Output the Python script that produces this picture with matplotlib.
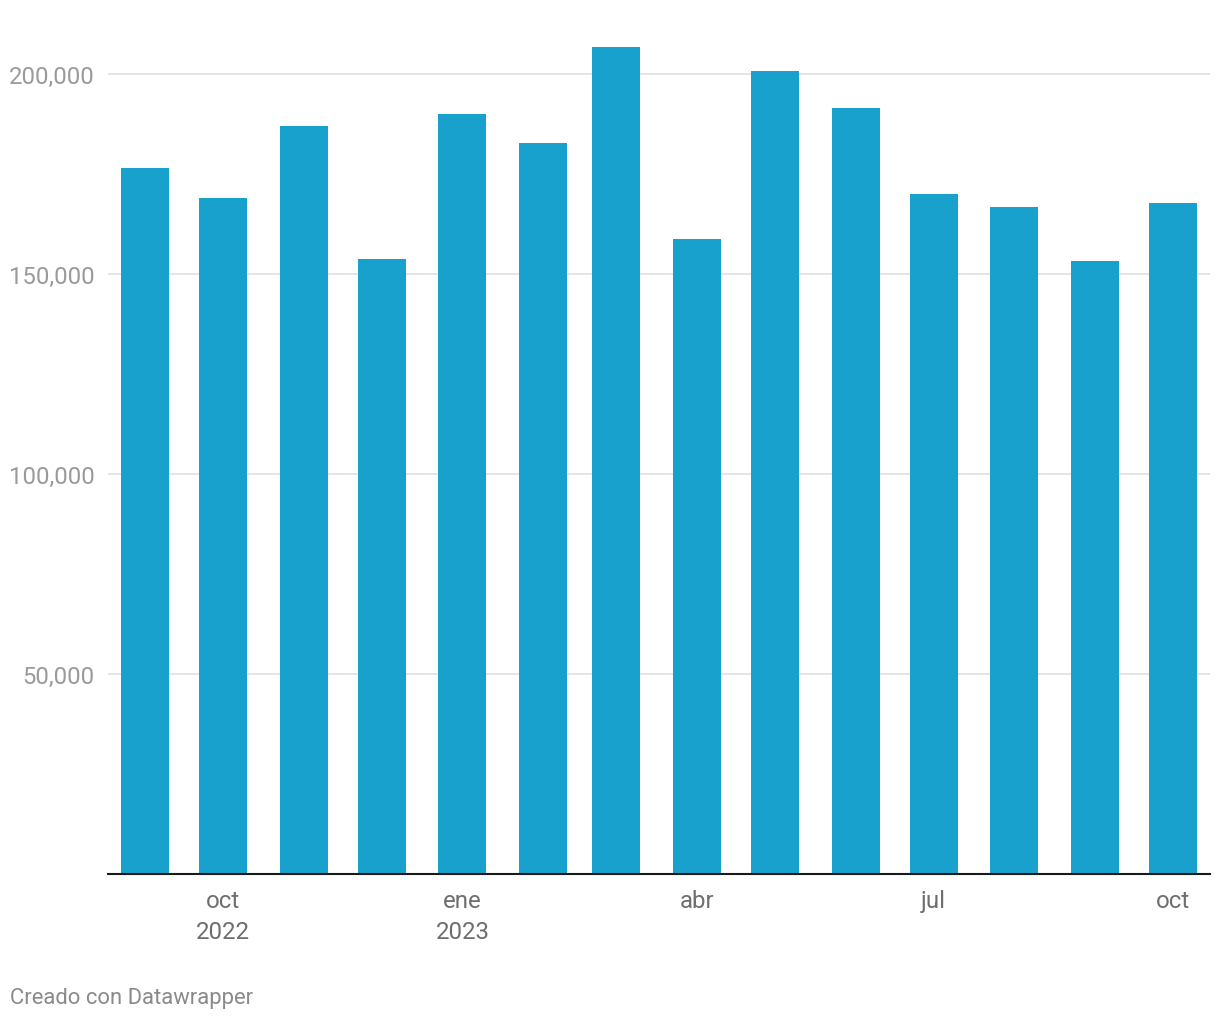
import matplotlib

matplotlib.use("Agg")
import matplotlib.pyplot as plt
import pandas as pd
from matplotlib.ticker import FuncFormatter

months = pd.period_range("2022-09", "2023-10", freq="M")
values = [176400, 168900, 186900, 153600, 189900, 182600, 206600,
          158600, 200600, 191400, 169900, 166600, 153100, 167600]

tick_months = ["2022-10", "2023-01", "2023-04", "2023-07", "2023-10"]
tick_labels = ["oct\n2022", "ene\n2023", "abr", "jul", "oct"]
y_ticks = [50000, 100000, 150000, 200000]

bar_color = "#18a1cd"
grid_color = "#e5e5e5"


def bar_pos(p):
    # Datawrapper puts each bar a fixed offset after the month start
    return p.start_time + pd.Timedelta(days=15)


def main():
    plt.rcParams["font.family"] = ["Roboto", "DejaVu Sans"]

    fig = plt.figure(figsize=(12.2, 10.2), dpi=100)
    ax = fig.add_axes([108 / 1220, 145.5 / 1020, 1102 / 1220, 854.5 / 1020])

    centers = [bar_pos(p) for p in months]
    ax.bar(centers, values, width=18.44, color=bar_color, zorder=2)

    margin = pd.Timedelta(days=14.2)
    ax.set_xlim(centers[0] - margin, centers[-1] + margin)
    ax.set_ylim(0, (874.5 - 20) / 4 * 1000)

    ax.set_xticks([bar_pos(pd.Period(m, freq="M")) for m in tick_months])
    ax.set_xticklabels(tick_labels, linespacing=1.42)
    ax.set_yticks(y_ticks)
    ax.yaxis.set_major_formatter(FuncFormatter(lambda v, _: f"{int(v):,}"))

    ax.tick_params(axis="x", length=0, pad=11.3, labelsize=17.3, labelcolor="#6e6e6e")
    ax.tick_params(axis="y", length=0, pad=9.5, labelsize=17.2, labelcolor="#9a9a9a")

    ax.grid(axis="y", color=grid_color, linewidth=1.4, zorder=0)
    ax.set_axisbelow(True)
    for side in ["top", "right", "left"]:
        ax.spines[side].set_visible(False)
    ax.spines["bottom"].set_color("#1a1a1a")
    ax.spines["bottom"].set_linewidth(1.5)
    ax.spines["bottom"].set_zorder(3)

    fig.text(10 / 1220, 1 - 999 / 1020, "Creado con Datawrapper",
             fontsize=15.8, color="#8a8a8a", ha="left", va="center")

    fig.savefig("out.png", dpi=100)


if __name__ == "__main__":
    main()
